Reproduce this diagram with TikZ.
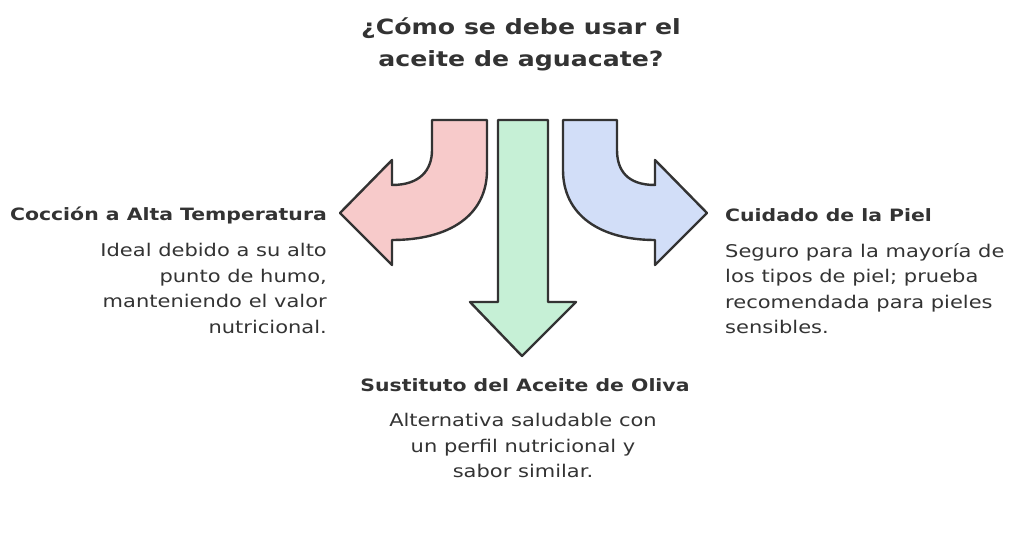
\documentclass[tikz,border=0pt]{standalone}
\usepackage{fontspec}
\setmainfont[FakeStretch=1.2]{DejaVu Sans}
\definecolor{ink}{HTML}{333333}
\definecolor{pinkf}{HTML}{F7CACA}
\definecolor{greenf}{HTML}{C6F0D6}
\definecolor{bluef}{HTML}{D2DEF8}
\begin{document}
\begin{tikzpicture}[x=1pt,y=-1pt,
  arr/.style={draw=ink,line width=2.4pt,line join=round},
  head/.style={font=\bfseries\fontsize{17}{20}\selectfont,text=ink,inner sep=0pt},
  body/.style={font=\fontsize{17.5}{25.5}\selectfont,text=ink,inner sep=0pt}]
\useasboundingbox (0,0) rectangle (1024,543);
% left arrow
\draw[arr,fill=pinkf] (432,120) -- (487,120) -- (487,170)
  .. controls (487,215) and (450,240) .. (392,240) -- (392,265) -- (340,213) -- (392,160) -- (392,185)
  .. controls (420,185) and (432,170) .. (432,150) -- cycle;
% right arrow
\draw[arr,fill=bluef] (617,120) -- (563,120) -- (563,170)
  .. controls (563,215) and (600,240) .. (655,240) -- (655,265) -- (707,213) -- (655,160) -- (655,185)
  .. controls (627,185) and (617,170) .. (617,150) -- cycle;
% middle arrow
\draw[arr,fill=greenf] (498,120) -- (548,120) -- (548,302) -- (576,302) -- (522,356) -- (470,302) -- (498,302) -- cycle;
\node[head,font=\bfseries\fontsize{21}{32}\selectfont,align=center] (t) at (521,44) {¿Cómo se debe usar el\\aceite de aguacate?};
\node[head,anchor=east] (lh) at (327,215) {Cocción a Alta Temperatura};
\node[body,anchor=north east,align=right] (lb) at (327,243) {Ideal debido a su alto\\punto de humo,\\manteniendo el valor\\nutricional.};
\node[head,anchor=west] (rh) at (725,215) {Cuidado de la Piel};
\node[body,anchor=north west,align=left] (rb) at (725,243) {Seguro para la mayoría de\\los tipos de piel; prueba\\recomendada para pieles\\sensibles.};
\node[head] (mh) at (525,385) {Sustituto del Aceite de Oliva};
\node[body,anchor=north,align=center] (mb) at (523,413) {Alternativa saludable con\\un perfil nutricional y\\sabor similar.};
\end{tikzpicture}
\end{document}
